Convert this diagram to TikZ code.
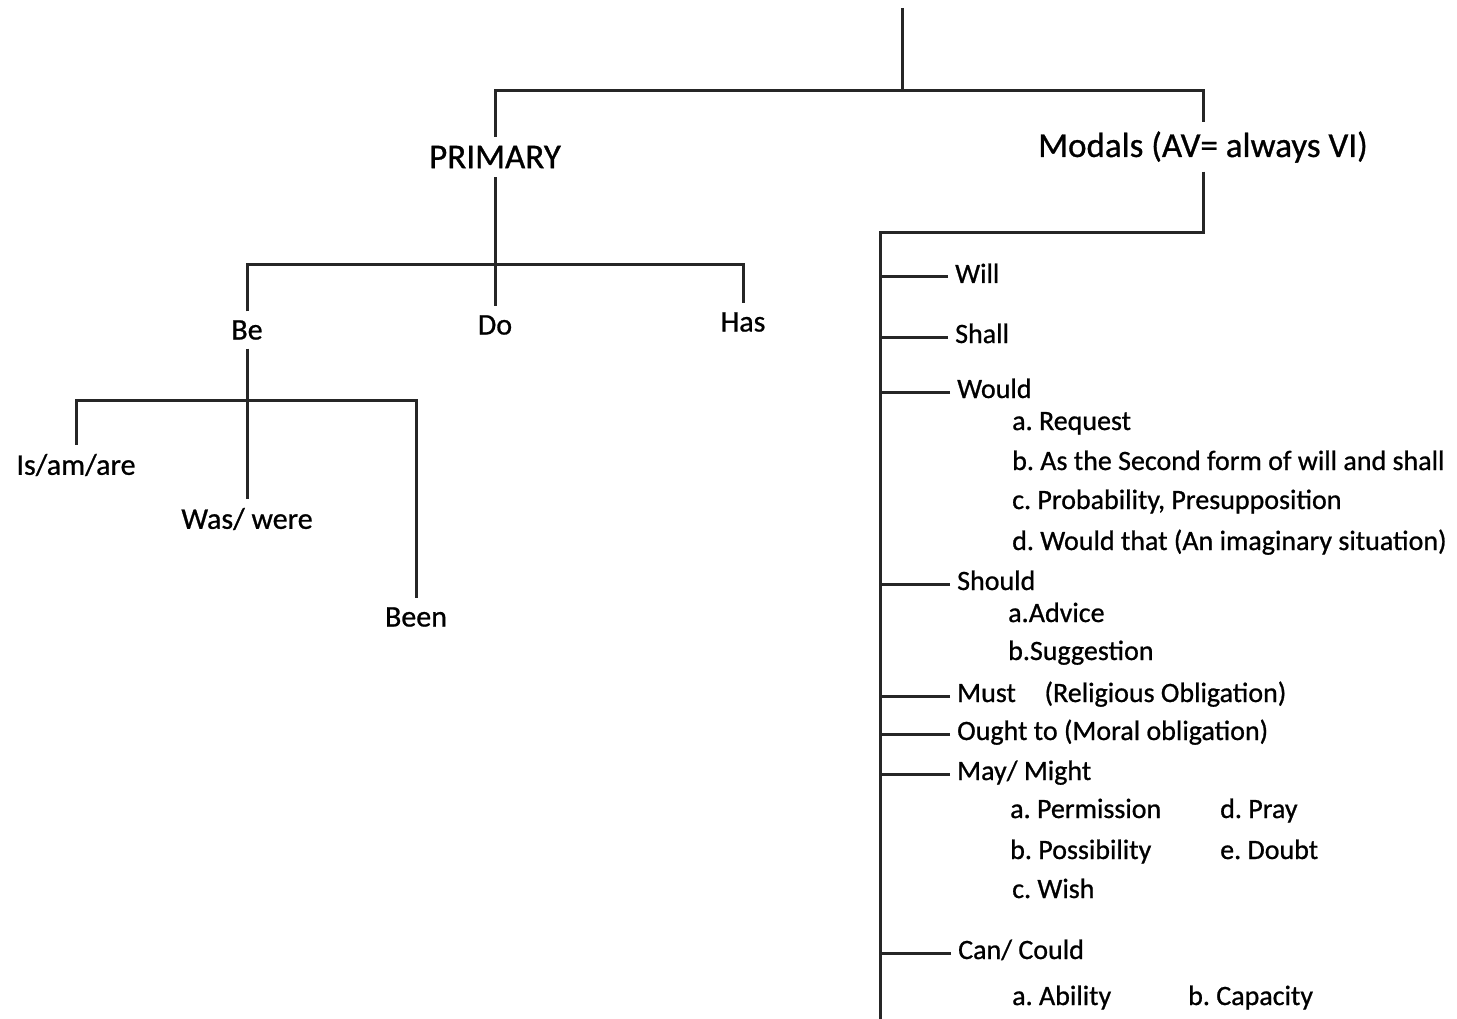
\documentclass[tikz,border=0pt]{standalone}
\usepackage{fontspec}
\setmainfont{Carlito}[FakeBold=0.8]
\frenchspacing
\tikzset{>=latex,
  branch/.style={line width=3pt,black!85},
  head/.style={font=\fontsize{35}{42}\selectfont,inner sep=3pt,outer sep=6pt},
  verb/.style={font=\fontsize{30}{36}\selectfont,inner sep=3pt,outer sep=6pt},
  item/.style={font=\fontsize{28}{34}\selectfont,anchor=base west,inner sep=0pt}}

\begin{document}
\begin{tikzpicture}[x=1pt,y=-1pt]
  \useasboundingbox (0,0) rectangle (1457,1019);
  % top split
  \coordinate (top)   at (902,8);
  \coordinate (split) at (902,91);
  \node[head] (primary) at (495,157)  {PRIMARY};
  \node[head] (modals)  at (1203,147) {Modals (AV= always VI)};
  \draw[branch] (top) -- (split);
  \draw[branch] (primary.north) |- (split) -| (modals.north);

  % primary
  \node[verb] (be)  at (247,330) {Be};
  \node[verb] (do)  at (495,325) {Do};
  \node[verb] (has) at (743,322) {Has};
  \coordinate (pbar) at (495,265);
  \draw[branch] (primary.south) -- (do.north);
  \draw[branch] (be.north) |- (pbar) -| (has.north);

  \node[verb] (isam) at (76,465)  {Is/am/are};
  \node[verb] (was)  at (247,519) {Was/ were};
  \node[verb] (been) at (416,617) {Been};
  \coordinate (bbar) at (247,400);
  \draw[branch] (be.south) -- (was.north);
  \draw[branch] (isam.north) |- (bbar) -| (been.north);

  % modals
  \coordinate (spine)    at (880,233);
  \coordinate (spinebot) at (880,1019);
  \draw[branch] (modals.south) |- (spine) -- (spinebot);

  \node[item] (will)   at (955,283) {Will};
  \node[item] (shall)  at (955,343) {Shall};
  \node[item] (would)  at (957,398) {Would};
  \node[item] (wouldA) at (1012,430) {a. Request};
  \node[item] (wouldB) at (1012,470) {b. As the Second form of will and shall};
  \node[item] (wouldC) at (1012,509) {c. Probability, Presupposition};
  \node[item] (wouldD) at (1012,550) {d. Would that (An imaginary situation)};
  \node[item] (should) at (957,590) {Should};
  \node[item] (shouldA) at (1008,622) {a.Advice};
  \node[item] (shouldB) at (1008,660) {b.Suggestion};
  \node[item] (must)   at (957,702) {Must\hspace{0.8em} (Religious Obligation)};
  \node[item] (ought)  at (957,740) {Ought to (Moral obligation)};
  \node[item] (may)    at (957,780) {May/ Might};
  \node[item] (mayA)   at (1010,818) {a. Permission};
  \node[item] (mayD)   at (1220,818) {d. Pray};
  \node[item] (mayB)   at (1010,859) {b. Possibility};
  \node[item] (mayE)   at (1220,859) {e. Doubt};
  \node[item] (mayC)   at (1012,898) {c. Wish};
  \node[item] (can)    at (958,959) {Can/ Could};
  \node[item] (canA)   at (1012,1005) {a. Ability};
  \node[item] (canB)   at (1188,1005) {b. Capacity};

  \foreach \n in {will,shall,would,should,must,ought,may,can}
    \draw[branch] ([shift={(-7pt,6pt)}]\n.base west) -- ([yshift=6pt]spine |- \n.base west);
\end{tikzpicture}
\end{document}
